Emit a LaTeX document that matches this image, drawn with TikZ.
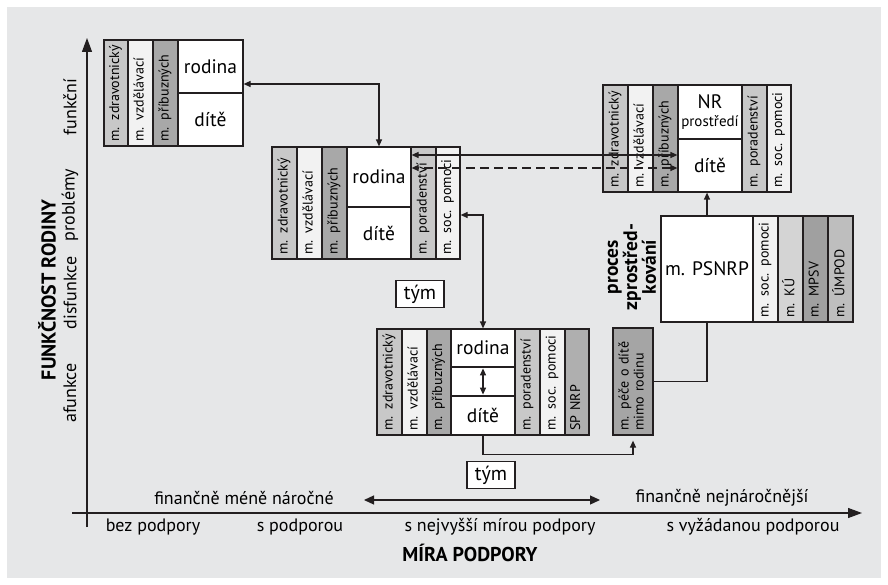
\documentclass[tikz,border=0pt]{standalone}
\usepackage{fontspec}
\setmainfont{PT Sans}
\usetikzlibrary{arrows.meta,calc}
\definecolor{bg}{RGB}{230,231,232}
\definecolor{lc}{RGB}{35,31,32}
\definecolor{light}{RGB}{242,242,242}
\definecolor{mid}{RGB}{200,200,200}
\definecolor{dark}{RGB}{168,168,168}
\definecolor{pece}{RGB}{165,165,165}
\definecolor{ku}{RGB}{212,212,212}
\definecolor{mpsv}{RGB}{160,160,160}
\definecolor{umpod}{RGB}{190,190,190}
\definecolor{spnrp}{RGB}{175,175,175}
\newcommand\colv[7]{%
 \pgfmathsetmacro\myCW{#3-#2}\pgfmathsetmacro\myCH{#5-#4}%
 \pgfmathsetmacro\myCX{(#2+#3)/2}\pgfmathsetmacro\myCY{(#4+#5)/2}%
 \pgfmathsetmacro\myTW{\myCH-9}%
 \node[colbox, fill=#6, minimum height=\myCW pt, minimum width=\myCH pt, text width=\myTW pt] (#1) at (\myCX,\myCY) {\begin{tabular}{@{}l@{}}#7\end{tabular}};}
\newcommand\pnl[6]{%
 \pgfmathsetmacro\myCW{#3-#2}\pgfmathsetmacro\myCH{#5-#4}%
 \pgfmathsetmacro\myCX{(#2+#3)/2}\pgfmathsetmacro\myCY{(#4+#5)/2}%
 \node[panel, minimum width=\myCW pt, minimum height=\myCH pt] (#1) at (\myCX,\myCY) {#6};}
\begin{document}
\begin{tikzpicture}[x=1pt,y=-1pt,
 colbox/.style={draw=lc, line width=1.2pt, rotate=90, inner sep=0pt, align=left, font=\fontsize{14}{15}\selectfont},
 panel/.style={draw=lc, line width=1.2pt, fill=white, inner sep=0pt, align=center, font=\fontsize{19.5}{20}\selectfont},
 conn/.style={draw=lc, line width=1.2pt},
 tip/.style={{Triangle[length=7pt,width=6pt]}-{Triangle[length=7pt,width=6pt]}},
 etip/.style={-{Triangle[length=7pt,width=6pt]}},
 lbl/.style={font=\fontsize{18}{18}\selectfont, inner sep=0pt},
 vlbl/.style={font=\fontsize{18}{18}\selectfont, inner sep=0pt, rotate=90},
 bold/.style={font=\bfseries\fontsize{20}{20}\selectfont, inner sep=0pt},
 team/.style={draw=lc, line width=1.2pt, fill=white, font=\fontsize{20}{20}\selectfont, minimum width=48pt, minimum height=27pt, inner sep=0pt}]
\useasboundingbox (0,0) rectangle (888,585);
\fill[white] (0,0) rectangle (888,585);
\fill[bg] (7,7) rectangle (881,578);

% axes
\coordinate (vb) at (87,527);
\coordinate (vt) at (87,38);
\coordinate (hl) at (72,513);
\coordinate (hr) at (862,513);
\draw[conn, -{Triangle[length=14pt,width=10pt]}] (vb) -- (vt);
\draw[conn, -{Triangle[length=14pt,width=10pt]}] (hl) -- (hr);

% y labels
\node[vlbl] (yl1) at (70,107) {funkční};
\node[vlbl] (yl2) at (70,205) {problémy};
\node[vlbl] (yl3) at (70,293) {disfunkce};
\node[vlbl] (yl4) at (70,393) {afunkce};
\node[bold, rotate=90] (ytitle) at (47,290) {FUNKČNOST RODINY};

% x labels
\node[lbl] (xl1) at (153,527) {bez podpory};
\node[lbl] (xl2) at (300,527) {s podporou};
\node[lbl] (xl3) at (500,527) {s nejvyšší mírou podpory};
\node[lbl] (xl4) at (753,527) {s vyžádanou podporou};
\node[bold] (xtitle) at (470,553) {MÍRA PODPORY};
\node[lbl] (fin1) at (244,498) {finančně méně náročné};
\node[lbl] (fin2) at (722,498) {finančně nejnáročnější};
\coordinate (da1) at (364,500);
\coordinate (da2) at (600,500);
\draw[conn, {Triangle[length=10pt,width=9pt]}-{Triangle[length=10pt,width=9pt]}] (da1) -- (da2);

% box 1
\colv{a1}{104}{128}{40}{146}{mid}{m. zdravotnický}
\colv{a2}{128}{153}{40}{146}{light}{m. vzdělávací}
\colv{a3}{153}{178}{40}{146}{dark}{m. příbuzných}
\pnl{a4}{178}{243}{40}{93}{rodina}
\pnl{a5}{178}{243}{93}{146}{dítě}

% box 2
\colv{b1}{272}{297}{147}{259}{mid}{m. zdravotnický}
\colv{b2}{297}{322}{147}{259}{light}{m. vzdělávací}
\colv{b3}{322}{347}{147}{259}{dark}{m. příbuzných}
\pnl{b4}{347}{411}{147}{207}{rodina}
\pnl{b5}{347}{411}{207}{259}{dítě}
\colv{b6}{411}{436}{147}{259}{mid}{m. poradenství}
\colv{b7}{436}{460}{147}{259}{light}{m. soc. pomoci}

% box 3
\colv{c1}{603}{628}{85}{192}{mid}{m. zdravotnický}
\colv{c2}{628}{653}{85}{192}{light}{m. vzdělávací}
\colv{c3}{653}{678}{85}{192}{dark}{m. příbuzných}
\pnl{c4}{678}{742}{85}{139}{NR\\[-2pt]{\fontsize{15}{15}\selectfont prostředí}}
\pnl{c5}{678}{742}{139}{192}{dítě}
\colv{c6}{742}{767}{85}{192}{mid}{m. poradenství}
\colv{c7}{767}{791}{85}{192}{light}{m. soc. pomoci}

% box 4
\colv{d1}{377}{402}{329}{435}{mid}{m. zdravotnický}
\colv{d2}{402}{427}{329}{435}{light}{m. vzdělávací}
\colv{d3}{427}{451}{329}{435}{dark}{m. příbuzných}
\pnl{d4}{451}{515}{329}{367}{rodina}
\pnl{d5}{451}{515}{367}{396}{}
\pnl{d6}{451}{515}{396}{435}{dítě}
\colv{d7}{515}{540}{329}{435}{mid}{m. poradenství}
\colv{d8}{540}{565}{329}{435}{light}{m. soc. pomoci}
\colv{d9}{565}{589}{329}{435}{spnrp}{SP NRP}

% box 5
\colv{e1}{613}{653}{328}{435}{pece}{m. péče o dítě\\mimo rodinu}

% box 6
\pnl{f1}{661}{753}{216}{322}{m. PSNRP}
\colv{f2}{753}{778}{216}{322}{light}{m. soc. pomoci}
\colv{f3}{778}{803}{216}{322}{ku}{m. KÚ}
\colv{f4}{803}{828}{216}{322}{mpsv}{m. MPSV}
\colv{f5}{828}{853}{216}{322}{umpod}{m. ÚMPOD}
\node[bold, rotate=90, align=center, font=\bfseries\fontsize{19.5}{15}\selectfont] (proc) at (632,267) {proces\\zprostřed-\\kování};

% team boxes
\node[team] (t1) at (420,294) {tým};
\node[team] (t2) at (491,475) {tým};

% connectors
\coordinate (ys) at (0,155);
\coordinate (yd) at (0,168);
\coordinate (yb) at (0,215);
\draw[conn, tip] ([yshift=-17.5pt]a4.east) -| (b4.north);
\draw[conn, tip] (c5.west |- ys) -- (b4.east |- ys);
\draw[conn, tip, dashed, dash pattern=on 9pt off 5pt] (c5.west |- yd) -- (b4.east |- yd);
\draw[conn, tip] (b7.south |- yb) -| (d4.north);
\draw[conn, tip, shorten <=2pt, shorten >=2pt] (d5.north) -- (d5.south);
\draw[conn, etip] (d6.south) -- ++(0,19) -| ([yshift=-5pt]e1.west);
\draw[conn] (e1.south) -| (f1.south);
\draw[conn, etip] (f1.north) -- (f1.north |- c5.south);
\end{tikzpicture}
\end{document}
